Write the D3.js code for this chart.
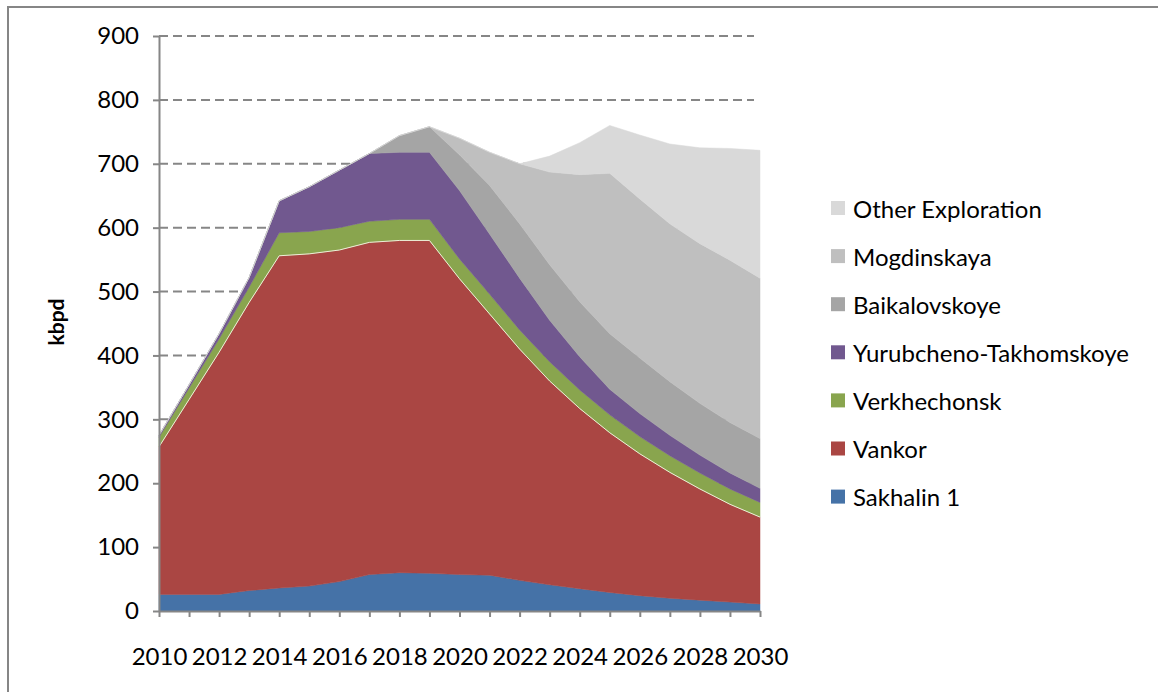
<!DOCTYPE html>
<html lang="en">
<head>
<meta charset="utf-8">
<title>East Siberian / Far East crude output by field, kbpd</title>
<script src="https://cdn.jsdelivr.net/npm/d3@7"></script>
<style>
  body { margin: 0; background: #fff; }
  text { font-family: Lato, "Open Sans", sans-serif; fill: #000; }
</style>
</head>
<body>
<script>
// --- data (kbpd) ---
var years = [2010, 2011, 2012, 2013, 2014, 2015, 2016, 2017, 2018, 2019, 2020,
             2021, 2022, 2023, 2024, 2025, 2026, 2027, 2028, 2029, 2030];
var sakhalin1 = [26, 26, 26, 32, 36, 39, 46, 57, 60, 59, 57, 56, 48, 41, 35, 29, 24, 20, 17, 14, 11];
var vankor = [231, 305, 379, 451, 520, 520, 519, 520, 520, 521, 463, 409, 362, 319, 282, 250, 222, 197, 174, 153, 136];
var verkhechonsk = [15, 18, 21, 24, 36, 35, 35, 33, 33, 33, 31, 31, 30, 30, 29, 28, 27, 26, 25, 24, 23];
var yurubcheno = [3, 5, 8, 15, 50, 70, 90, 106, 105, 105, 107, 94, 81, 65, 52, 40, 36, 32, 28, 25, 22];
var baikalovskoye = [0, 0, 0, 0, 0, 0, 0, 0, 26, 40, 56, 76, 85, 87, 86, 87, 87, 84, 81, 79, 78];
var mogdinskaya = [0, 0, 0, 0, 0, 0, 0, 0, 0, 0, 26, 52, 94, 145, 199, 251, 249, 247, 250, 254, 251];
var otherExploration = [0, 0, 0, 0, 0, 0, 0, 0, 0, 0, 0, 0, 0, 25, 50, 75, 100, 125, 150, 175, 200];

var seriesNames = ["Sakhalin 1", "Vankor", "Verkhechonsk", "Yurubcheno-Takhomskoye",
                   "Baikalovskoye", "Mogdinskaya", "Other Exploration"];
var seriesValues = [sakhalin1, vankor, verkhechonsk, yurubcheno, baikalovskoye, mogdinskaya, otherExploration];
var yTicks = [0, 100, 200, 300, 400, 500, 600, 700, 800, 900];

var colors = ["#4572A7", "#AA4643", "#89A54E", "#71588F", "#A5A5A5", "#BFBFBF", "#D9D9D9"];
var axisGrey = "#868686";

var w = 1158, h = 692;

var svg = d3.select("body")
    .append("svg")
    .attr("width", w)
    .attr("height", h);

// outer chart frame (only top and left edges fall inside the picture)
svg.append("rect")
    .attr("x", 8).attr("y", 7)
    .attr("width", 1300).attr("height", 900)
    .attr("fill", "none")
    .attr("stroke", axisGrey)
    .attr("stroke-width", 2);

var x = d3.scaleLinear().domain([2010, 2030]).range([159, 760]);
var y = d3.scaleLinear().domain([0, 900]).range([611, 36]);

// build rows for d3.stack
var table = years.map(function(yr, i) {
    var row = { year: yr };
    seriesNames.forEach(function(name, j) { row[name] = seriesValues[j][i]; });
    return row;
});
var stacked = d3.stack().keys(seriesNames)(table);

// dashed gridlines behind the areas
svg.append("g")
    .selectAll("line")
    .data(yTicks.slice(1))
    .enter()
    .append("line")
    .attr("x1", x(2010))
    .attr("x2", x(2030) - 6)
    .attr("y1", function(d) { return y(d); })
    .attr("y2", function(d) { return y(d); })
    .attr("stroke", axisGrey)
    .attr("stroke-width", 2)
    .attr("stroke-dasharray", "9,5");

var area = d3.area()
    .x(function(d) { return x(d.data.year); })
    .y0(function(d) { return y(d[0]); })
    .y1(function(d) { return y(d[1]); });

svg.append("g")
    .selectAll("path")
    .data(stacked)
    .enter()
    .append("path")
    .attr("d", area)
    .attr("fill", function(d, i) { return colors[i]; })
    .attr("stroke", function(d, i) { return colors[i]; })
    .attr("stroke-width", 0.5);

// thin light seam along the top of Vankor, as in the original
var topLine = d3.line()
    .x(function(d) { return x(d.data.year); })
    .y(function(d) { return y(d[1]); });
svg.append("path")
    .attr("d", topLine(stacked[1]))
    .attr("fill", "none")
    .attr("stroke", "#eeeed8")
    .attr("stroke-width", 1);

// axes
var yAxis = d3.axisLeft(y)
    .tickValues(yTicks)
    .tickSize(6)
    .tickSizeOuter(0)
    .tickPadding(14);

var gy = svg.append("g")
    .attr("transform", "translate(" + x(2010) + ",0)")
    .call(yAxis);

var xAxis = d3.axisBottom(x)
    .tickValues(years)
    .tickSize(6)
    .tickSizeOuter(0)
    .tickPadding(31)
    .tickFormat(function(d) { return d % 2 === 0 ? String(d) : ""; });

var gx = svg.append("g")
    .attr("transform", "translate(0," + y(0) + ")")
    .call(xAxis);

[gx, gy].forEach(function(g) {
    g.select(".domain").attr("stroke", axisGrey).attr("stroke-width", 2);
    g.selectAll(".tick line").attr("stroke", axisGrey).attr("stroke-width", 2);
    g.selectAll(".tick text")
        .attr("font-family", "Lato, 'Open Sans', sans-serif")
        .attr("font-size", "24px")
        .attr("fill", "#000");
});

// y axis title
svg.append("text")
    .text("kbpd")
    .attr("transform", "translate(64,322) rotate(-90)")
    .attr("text-anchor", "middle")
    .attr("font-size", "21px")
    .attr("font-weight", "bold");

// legend, top entry is the last series
var legend = svg.append("g")
    .selectAll("g")
    .data(seriesNames.slice().reverse())
    .enter()
    .append("g")
    .attr("transform", function(d, i) { return "translate(831," + (209 + i * 48.1) + ")"; });

legend.append("rect")
    .attr("x", 0)
    .attr("y", -8)
    .attr("width", 14)
    .attr("height", 14)
    .attr("fill", function(d) { return colors[seriesNames.indexOf(d)]; });

legend.append("text")
    .text(function(d) { return d; })
    .attr("x", 22)
    .attr("y", 8.5)
    .attr("font-size", "24px");
</script>
</body>
</html>
